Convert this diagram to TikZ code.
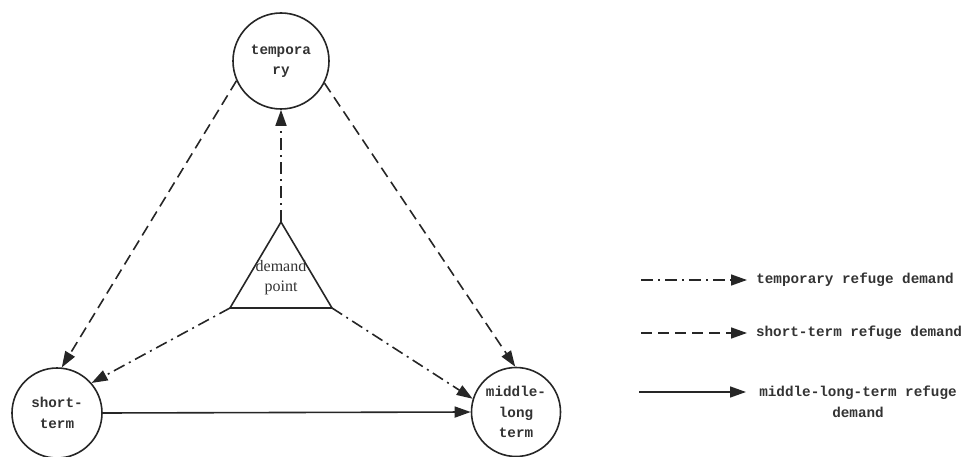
\documentclass[tikz,border=0pt]{standalone}
\usepackage{fontspec}
\setmonofont{Liberation Mono}
\newfontfamily\serifbox{Liberation Serif}
\usetikzlibrary{arrows.meta}
\begin{document}
\begin{tikzpicture}[x=1pt,y=-1pt,
  every node/.style={inner sep=0pt},
  base/.style={line width=1.6pt,draw=black!85},
  hd/.style={-{Triangle[length=16pt,width=11pt]}},
  dashdot/.style={base,hd,dash pattern=on 12pt off 5pt on 2pt off 5pt},
  dashline/.style={base,hd,dash pattern=on 11pt off 6pt},
  solidline/.style={base,hd},
  circ/.style={circle,draw=black!85,line width=1.6pt,align=center,
    font=\ttfamily\bfseries\fontsize{14.3}{20.5}\selectfont,text=black!80},
  lab/.style={align=center,font=\ttfamily\bfseries\fontsize{14.3}{20.5}\selectfont,text=black!80}
]
\useasboundingbox (0,0) rectangle (964,457);
\node[circ,minimum size=96pt] (temp) at (281,61) {tempora\\ry};
\node[circ,minimum size=90pt] (short) at (57,413) {short-\\term};
\node[circ,minimum size=89pt] (mid) at (516,412) {middle-\\long\\term};
\coordinate (apex) at (281,222);
\coordinate (bl) at (230,308);
\coordinate (br) at (332,308);
\draw[base] (apex) -- (bl) -- (br) -- cycle;
\node[align=center,font=\serifbox\fontsize{16}{20}\selectfont,text=black!80] (dp) at (281,278) {demand\\point};
\draw[dashdot] (apex) -- (temp.south);
\draw[dashdot] (bl) -- (short.41);
\draw[dashdot] (br) -- (mid.163);
\draw[dashline] (temp.204) -- (short.84);
\draw[dashline] (temp.333) -- (mid.91);
\draw[solidline] (short.east) -- (mid.west);
% legend
\coordinate (l1s) at (641,280); \coordinate (l1e) at (747,280);
\coordinate (l2s) at (641,333); \coordinate (l2e) at (747,333);
\coordinate (l3s) at (639,392); \coordinate (l3e) at (746,392);
\draw[dashdot] (l1s) -- (l1e);
\draw[dashline] (l2s) -- (l2e);
\draw[solidline] (l3s) -- (l3e);
\node[lab] (t1) at (855,280) {temporary refuge demand};
\node[lab] (t2) at (859,333) {short-term refuge demand};
\node[lab] (t3) at (858,402) {middle-long-term refuge\\demand};
\end{tikzpicture}
\end{document}
